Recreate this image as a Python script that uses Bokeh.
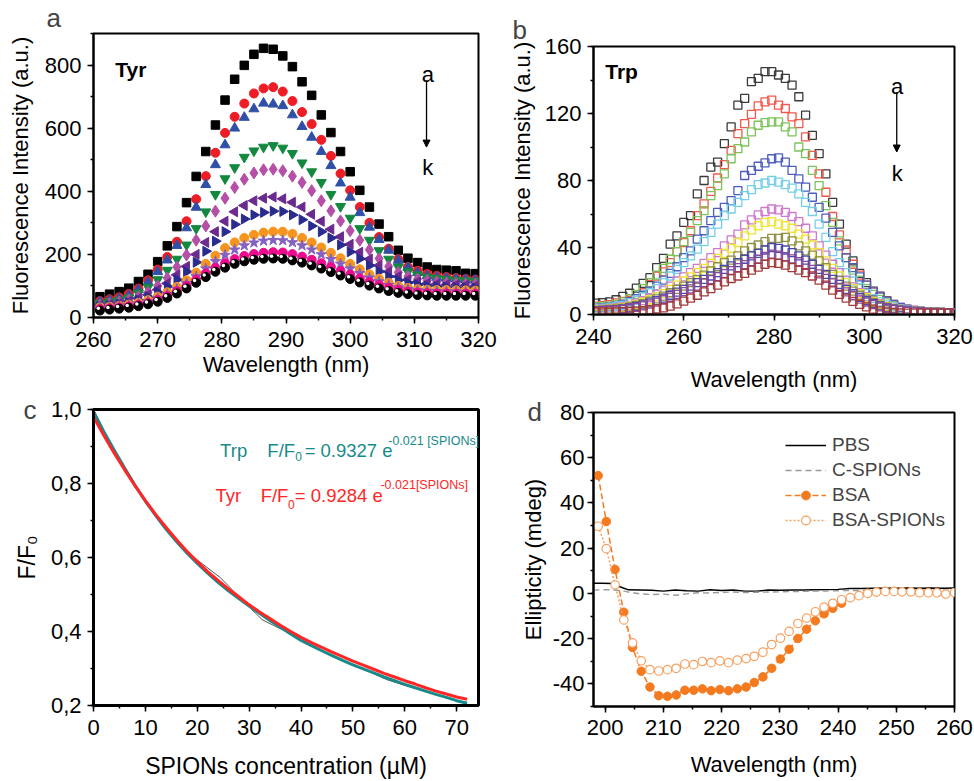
import numpy as np
from bokeh.plotting import figure
from bokeh.layouts import row, column
from bokeh.models import (Range1d, SingleIntervalTicker, Label, Arrow, NormalHead, Title,
                          Legend, LegendItem, CustomJSTickFormatter)
from bokeh.embed import file_html
from bokeh.resources import INLINE

FONT = "Liberation Sans"

# ---------------- Panel a : Tyr fluorescence ----------------
tyr_x = [261, 262.5, 264, 265.5, 267, 268.5, 270, 271.5, 273, 274.5, 276, 277.5, 279, 280.5,
         282, 283.5, 285, 286.5, 288, 289.5, 291, 292.5, 294, 295.5, 297, 298.5, 300, 301.5,
         303, 304.5, 306, 307.5, 309, 310.5, 312, 313.5, 315, 316.5, 318, 319.5]
tyr_a = [66, 74, 82, 93, 114, 137, 177, 227, 288, 364, 447, 526, 610, 689, 755, 799, 834, 853, 850, 829,
         795, 747, 704, 642, 586, 526, 462, 403, 350, 296, 256, 213, 188, 174, 160, 152, 150, 148, 140, 139]
tyr_b = [52, 58, 64, 75, 92, 118, 152, 192, 240, 305, 375, 448, 522, 585, 636, 678, 710, 726, 730, 716,
         686, 651, 613, 563, 512, 456, 403, 350, 300, 255, 218, 185, 160, 148, 138, 132, 128, 125, 122, 120]
tyr_c = [50, 55, 60, 70, 88, 112, 145, 182, 228, 284, 349, 421, 484, 547, 600, 634, 661, 679, 676, 671,
         642, 605, 571, 526, 481, 426, 381, 332, 286, 247, 213, 181, 158, 142, 132, 127, 124, 122, 120, 118]
tyr_d = [45, 50, 55, 63, 78, 96, 120, 150, 185, 230, 282, 335, 390, 440, 475, 508, 528, 540, 545, 537,
         520, 490, 462, 428, 390, 352, 315, 282, 245, 212, 185, 160, 145, 135, 128, 124, 120, 118, 116, 115]
tyr_e = [40, 44, 49, 56, 66, 80, 100, 125, 160, 198, 245, 290, 337, 378, 412, 438, 458, 468, 470, 465,
         448, 428, 402, 370, 338, 306, 275, 245, 215, 187, 162, 143, 130, 122, 117, 113, 110, 108, 106, 105]
tyr_f = [38, 41, 45, 51, 60, 72, 88, 108, 135, 162, 200, 238, 272, 305, 335, 355, 370, 378, 382, 376,
         365, 350, 327, 305, 280, 256, 232, 207, 185, 165, 145, 130, 120, 113, 108, 106, 104, 103, 102, 100]
tyr_g = [35, 38, 42, 47, 55, 65, 80, 98, 120, 145, 175, 210, 242, 272, 295, 312, 325, 333, 337, 336,
         325, 310, 290, 272, 252, 230, 208, 186, 165, 146, 130, 118, 110, 104, 100, 98, 96, 95, 94, 93]
tyr_h = [32, 34, 37, 41, 47, 55, 66, 80, 97, 118, 142, 170, 196, 220, 238, 252, 262, 269, 272, 272,
         265, 252, 238, 222, 205, 188, 170, 153, 137, 123, 110, 100, 94, 90, 88, 87, 87, 86, 86, 85]
tyr_i = [30, 32, 35, 38, 44, 51, 61, 74, 90, 108, 130, 155, 178, 198, 215, 228, 237, 243, 245, 244,
         238, 228, 215, 200, 185, 170, 155, 140, 126, 114, 103, 95, 90, 86, 84, 83, 82, 82, 81, 80]
tyr_j = [27, 29, 32, 35, 40, 46, 56, 68, 83, 100, 120, 140, 157, 172, 185, 195, 201, 205, 207, 206,
         201, 193, 183, 172, 160, 148, 136, 124, 113, 103, 94, 87, 82, 79, 77, 76, 76, 75, 75, 75]
tyr_k = [22, 25, 28, 31, 36, 42, 50, 62, 76, 92, 110, 128, 145, 158, 170, 178, 183, 186, 187, 186,
         181, 174, 165, 155, 144, 133, 122, 111, 101, 92, 84, 78, 74, 71, 70, 69, 69, 69, 69, 69]

# ---------------- Panel b : Trp fluorescence ----------------
trp_x = [240.5, 242, 243.5, 245, 246.5, 248, 249.5, 251, 252.5, 254, 255.5, 257, 258.5, 260,
         261.5, 263, 264.5, 266, 267.5, 269, 270.5, 272, 273.5, 275, 276.5, 278, 279.5, 281,
         282.5, 284, 285.5, 287, 288.5, 290, 291.5, 293, 294.5, 296, 297.5, 299, 300.5, 302,
         303.5, 305, 306.5, 308, 309.5, 311, 312.5, 314, 315.5, 317, 318.5, 320]
trp_a = [6.8, 7.1, 7.5, 8.8, 10.8, 12.7, 15.7, 18.6, 22, 28,
         33.5, 42, 47, 55, 59, 72, 80, 88, 91, 102,
         112, 125, 129, 139, 141, 145, 145, 143, 141, 137,
         130, 119, 107, 96, 84, 67, 54, 42, 32, 24.5,
         19, 14, 11, 8.3, 5.8, 3.8, 2.8, 2.2, 1.8, 1.5,
         1.3, 1.2, 1.1, 1]
trp_b = [5, 5.3, 5.9, 6.9, 7.8, 8.5, 9.5, 13, 18, 23,
         25.5, 31, 37.5, 43, 50, 59, 66, 73.5, 81.5, 89.5,
         98, 108, 114, 119.5, 124.5, 127, 128, 125, 123, 118,
         114, 106, 95, 84, 73, 58.5, 47.5, 38.5, 30, 23.5,
         17.5, 13.5, 10.5, 8, 6, 4.3, 3.2, 2.4, 1.9, 1.5,
         1.3, 1.2, 1.1, 1]
trp_c = [4.5, 4.8, 5.2, 6, 7.5, 9.5, 12, 15.5, 19, 23.5,
         27.5, 33, 37.5, 43.5, 49, 56, 62, 71, 77, 84,
         93, 99, 103, 109, 113, 114.5, 115, 115, 112, 109,
         100, 96, 86, 77, 65, 55, 44, 34, 26.5, 20.5,
         15.5, 12, 9, 7, 5.2, 3.8, 2.8, 2.2, 1.8, 1.5,
         1.3, 1.2, 1.1, 1]
trp_d = [3.8, 4, 4.4, 5, 6, 7.5, 9.5, 11.5, 14, 17,
         20.5, 24.5, 28.5, 34, 38, 45, 50, 56, 61, 64,
         68, 74, 83, 86, 88.5, 90.5, 93, 93.5, 91, 86,
         81, 76, 70, 64, 57.5, 49, 41, 34, 28, 22.5,
         17.5, 13.5, 10.5, 8, 6, 4.3, 3.2, 2.4, 1.9, 1.5,
         1.3, 1.2, 1.1, 1]
trp_e = [3.5, 3.7, 4, 4.6, 5.5, 7, 8.5, 10.5, 13, 15.5,
         19, 23, 27, 31, 35, 39, 43.5, 49, 54, 59,
         63, 67, 71, 74.5, 77.5, 78.5, 80, 79, 77.5, 75.5,
         72, 67, 61.5, 54, 46, 37.5, 31, 25, 20, 16,
         12.5, 9.5, 7.5, 5.8, 4.5, 3.4, 2.6, 2.1, 1.7, 1.4,
         1.2, 1.1, 1, 1]
trp_f = [3, 3.2, 3.5, 4, 4.7, 5.5, 6.8, 8.3, 10, 12,
         14.5, 17, 20, 22.5, 25, 27.5, 30.5, 34, 37, 41,
         44.5, 48, 53.5, 56.5, 59.5, 61.5, 63, 62.5, 61, 58.5,
         55.5, 51.5, 47, 41, 35.5, 30, 25, 20.5, 16.5, 13,
         10.5, 8, 6.3, 4.9, 3.8, 3, 2.4, 2, 1.6, 1.4,
         1.2, 1.1, 1, 1]
trp_g = [2.7, 2.9, 3.2, 3.6, 4.2, 5, 6, 7.3, 8.8, 10.5,
         12.5, 15, 17.5, 20, 22.5, 25, 27.5, 30.5, 33.5, 36.5,
         39.5, 43, 47, 50.5, 53, 55, 55.5, 54, 53, 51.5,
         48, 45, 41.5, 37, 32, 27.5, 23, 19, 15.5, 12.5,
         10, 7.8, 6, 4.7, 3.7, 2.9, 2.3, 1.9, 1.6, 1.4,
         1.2, 1.1, 1, 1]
trp_h = [2.5, 2.7, 3, 3.3, 3.8, 4.5, 5.4, 6.5, 7.8, 9.3,
         11, 13, 15, 17, 19, 21, 23.5, 26, 28.5, 31,
         32.5, 35, 38, 40, 41.5, 43.5, 45.5, 45.5, 46, 44,
         41, 38, 35.5, 32, 28, 24, 20.5, 17, 14, 11.5,
         9.2, 7.2, 5.6, 4.4, 3.5, 2.8, 2.2, 1.8, 1.5, 1.3,
         1.2, 1.1, 1, 1]
trp_i = [2.2, 2.4, 2.6, 2.9, 3.4, 4, 4.8, 5.8, 7, 8.3,
         9.8, 11.5, 13.3, 15, 17, 19, 21, 23, 25, 27,
         29, 31, 33, 35, 36.5, 38.5, 40, 39.5, 38.5, 37,
         35, 32.5, 30, 27, 24, 21, 18, 15, 12.5, 10.2,
         8.2, 6.5, 5.1, 4, 3.2, 2.6, 2.1, 1.8, 1.5, 1.3,
         1.2, 1.1, 1, 1]
trp_j = [2, 2.2, 2.4, 2.7, 3.1, 3.6, 4.3, 5.2, 6.2, 7.4,
         8.8, 10.3, 12, 13.6, 15.3, 17, 19, 20.8, 22.6, 24.4,
         26.2, 28, 29.8, 31.5, 33, 34.7, 36, 35.5, 34.5, 33.2,
         31.5, 29.3, 27, 24.3, 21.6, 18.9, 16.2, 13.5, 11.2, 9.2,
         7.4, 5.9, 4.6, 3.6, 2.9, 2.4, 2, 1.7, 1.4, 1.2,
         1.1, 1, 1, 1]
trp_k = [1.5, 1.5, 1.5, 1.6, 1.7, 1.8, 2, 2.3, 2.8, 3.3,
         4, 5, 6.3, 8, 9.8, 11.5, 13.5, 15.5, 17.5, 19.5,
         21.5, 23, 24.5, 26.5, 28.3, 30, 31, 30.5, 29.5, 28,
         26.5, 25, 23, 20.5, 17.5, 14.5, 12, 9.8, 7.8, 6,
         4.5, 3.2, 2.2, 1.5, 1.1, 0.9, 0.8, 0.8, 0.8, 0.8,
         0.8, 0.8, 0.8, 0.8]

# ---------------- Panel c : quenching ----------------
fit_x = [0, 2, 4, 6, 8, 10, 12, 14, 16, 18, 20, 22, 24, 26, 28, 30, 32, 34, 36,
         38, 40, 42, 44, 46, 48, 50, 52, 54, 56, 58, 60, 62, 64, 66, 68, 70, 72]
trp_fit = [0.994, 0.940, 0.890, 0.842, 0.795, 0.752, 0.713, 0.676, 0.643, 0.612, 0.584,
           0.558, 0.533, 0.510, 0.489, 0.469, 0.449, 0.430, 0.412, 0.393, 0.376, 0.362,
           0.348, 0.335, 0.322, 0.310, 0.299, 0.288, 0.277, 0.267, 0.257, 0.248, 0.239,
           0.230, 0.222, 0.213, 0.206]
tyr_fit = [0.980, 0.930, 0.882, 0.837, 0.794, 0.754, 0.716, 0.681, 0.648, 0.617, 0.589,
           0.562, 0.538, 0.515, 0.494, 0.472, 0.453, 0.435, 0.417, 0.400, 0.384, 0.370,
           0.357, 0.344, 0.332, 0.320, 0.309, 0.298, 0.287, 0.277, 0.267, 0.258, 0.248,
           0.239, 0.231, 0.223, 0.217]
meas_x = [0, 4, 8, 12, 16.5, 20.5, 24.5, 28.5, 32.5, 36.5, 40.5, 44.5, 48.5, 52.5,
          56.5, 60.5, 64.5, 68.5, 72]
meas_y = [1.0, 0.885, 0.79, 0.712, 0.632, 0.588, 0.545, 0.487, 0.432, 0.404, 0.372,
          0.345, 0.318, 0.296, 0.270, 0.252, 0.237, 0.219, 0.205]

# ---------------- Panel d : CD spectra ----------------
cd_x = [198.8, 200.2, 201.7, 203.2, 204.7, 206.2, 207.7, 209.2, 210.7, 212.2, 213.7, 215.2,
        216.7, 218.2, 219.7, 221.2, 222.7, 224.2, 225.6, 227.1, 228.6, 230.1, 231.6, 233.1,
        234.6, 236.1, 237.6, 239.1, 240.6, 242.1, 243.6, 245.1, 246.6, 248.1, 249.6, 251.0,
        252.5, 254.0, 255.5, 257.0, 258.5, 260.0]
bsa = [52.1, 31.8, 10.6, -8.3, -23.9, -34.4, -41.4, -45.2, -45.5, -44.9, -42.8, -42.8,
       -42.2, -43.0, -42.5, -43.0, -42.2, -41.4, -39.4, -36.9, -33.1, -29.0, -24.7, -19.9,
       -15.8, -12.1, -9.0, -6.6, -4.3]
bsa_spions = [29.7, 19.8, 3.8, -11.7, -21.9, -29.8, -33.7, -34.3, -33.7, -33.1, -31.2, -31.5,
              -30.1, -30.6, -29.8, -30.6, -29.5, -28.8, -27.8, -26.0, -22.6, -19.8, -16.8, -13.3,
              -10.9, -8.1, -6.1, -4.4, -2.8, -1.9, -1.0, 0.0, 0.6, 0.9, 0.9, 0.7, 0.7, 0.3,
              0.3, 0.3, -0.3, 0.4]
base_x = [198, 199.5, 201, 202, 203, 204, 206, 208, 210, 212, 214, 216, 218, 220, 222, 224,
          226, 228, 230, 232, 234, 236, 238, 240, 242, 244, 246, 248, 250, 252, 254, 256, 258, 260]
pbs = [4.5, 4.5, 4.4, 3.5, 2.5, 1.6, 1.5, 1.4, 1.0, 1.5, 1.2, 1.0, 1.6, 1.3, 1.5, 1.0,
       1.0, 1.5, 1.4, 1.5, 1.5, 1.6, 1.7, 1.8, 2.2, 2.2, 2.3, 2.3, 2.3, 2.4, 2.3, 2.4, 2.3, 2.4]
c_spions = [1.5, 1.6, 1.6, 1.4, 1.2, 0.6, -0.2, -0.5, -0.3, -0.8, -0.2, 0.3, 0.2, 0.5, 0.6, 0.4,
            0.5, 0.6, 0.7, 0.8, 0.9, 1.0, 1.1, 1.2, 1.3, 1.3, 1.4, 1.4, 1.4, 1.4, 1.4, 1.4, 1.4, 1.4]


def style(p, xint, yint, lw=2, tick_size="22px", label_size="22px",
          xstand=8, ystand=6, xlab_off=5, ylab_off=5):
    p.xgrid.visible = False
    p.ygrid.visible = False
    p.outline_line_color = "black"
    p.outline_line_width = lw
    p.outline_line_alpha = 1
    for ax in (p.xaxis[0], p.yaxis[0]):
        ax.axis_line_width = lw
        ax.axis_line_color = "black"
        ax.major_tick_line_width = 1.5
        ax.minor_tick_line_width = 1.5
        ax.major_tick_out = 6
        ax.major_tick_in = 0
        ax.minor_tick_out = 3
        ax.minor_tick_in = 0
        ax.major_label_text_font = FONT
        ax.major_label_text_font_size = tick_size
        ax.major_label_text_color = "black"
        ax.axis_label_text_font = FONT
        ax.axis_label_text_font_size = label_size
        ax.axis_label_text_font_style = "normal"
        ax.axis_label_text_color = "black"
    p.xaxis[0].major_label_standoff = xstand
    p.yaxis[0].major_label_standoff = ystand
    p.xaxis[0].axis_label_standoff = xlab_off
    p.yaxis[0].axis_label_standoff = ylab_off
    p.xaxis[0].ticker = SingleIntervalTicker(interval=xint, num_minor_ticks=2)
    p.yaxis[0].ticker = SingleIntervalTicker(interval=yint, num_minor_ticks=2)


def txt(p, x, y, s, size="22px", color="black", style_="normal", align="left"):
    p.add_layout(Label(x=x, y=y, text=s, text_font=FONT, text_font_size=size,
                       text_color=color, text_font_style=style_, text_align=align,
                       text_baseline="alphabetic"))


def panel_letter(p, s, offset, standoff):
    p.add_layout(Title(text=s, align="left", offset=offset, standoff=standoff, text_font=FONT,
                       text_font_size="26px", text_font_style="normal"), "above")


# ======== Panel a ========
pa = figure(width=500, height=385, x_range=Range1d(260, 320), y_range=Range1d(0, 900),
            toolbar_location=None, output_backend="svg",
            min_border_left=93, min_border_right=22, min_border_top=33, min_border_bottom=68)
style(pa, 10, 200, xlab_off=2, ylab_off=9)
pa.xaxis.axis_label = "Wavelength (nm)"
pa.yaxis.axis_label = "Fluorescence Intensity (a.u.)"

tyr_specs = [
    (tyr_a, "square", 0, "#000000", 8.5),
    (tyr_b, "circle", 0, "#ee1c25", 9),
    (tyr_c, "triangle", 0, "#2f50a6", 10),
    (tyr_d, "inverted_triangle", 0, "#13893f", 10),
    (tyr_e, "diamond", 0, "#b54fa7", 12),
    (tyr_f, "triangle", np.pi / 2, "#6b2a8d", 10),
    (tyr_g, "triangle", -np.pi / 2, "#292b8e", 10),
    (tyr_h, "circle", 0, "#f7941e", 9),
    (tyr_i, "star", 0, "#8561c1", 11),
    (tyr_j, "circle", 0, "#ec0b8d", 9),
    (tyr_k, "circle", 0, "#000000", 9),
]
for vals, mk, ang, col, sz in tyr_specs:
    pa.scatter(tyr_x, vals, marker=mk, angle=ang, size=sz, fill_color=col, line_color=col)
pa.scatter([x - 0.25 for x in tyr_x], [v + 7 for v in tyr_k], marker="circle", size=3.5,
           fill_color="white", line_color=None)

panel_letter(pa, "a", -47, 1)
txt(pa, 263.4, 787, "Tyr", size="21px", style_="bold")
txt(pa, 312.1, 770, "a", size="22px", align="center")
txt(pa, 312.1, 476, "k", size="22px", align="center")
pa.add_layout(Arrow(end=NormalHead(size=7, fill_color="black", line_color="black"),
                    x_start=311.9, y_start=751, x_end=311.9, y_end=540,
                    line_width=1.3, line_color="black"))

# ======== Panel b ========
pb = figure(width=474, height=394, x_range=Range1d(240, 320), y_range=Range1d(0, 160),
            toolbar_location=None, output_backend="svg",
            min_border_left=84, min_border_right=20, min_border_top=46, min_border_bottom=76)
style(pb, 20, 40, xlab_off=20, ylab_off=7)
pb.xaxis.axis_label = "Wavelength (nm)"
pb.yaxis.axis_label = "Fluorescence Intensity (a.u.)"

trp_specs = [
    (trp_a, "#3a3a3a"), (trp_b, "#f4574b"), (trp_c, "#7cc35a"), (trp_d, "#4c5cbf"),
    (trp_e, "#74cfe6"), (trp_f, "#cf78cc"), (trp_g, "#efe43a"), (trp_h, "#8f8f45"),
    (trp_i, "#4848a8"), (trp_j, "#8a4a9a"), (trp_k, "#a33a3a"),
]
for vals, col in trp_specs:
    pb.scatter(trp_x, vals, marker="square", size=8, fill_color=None, line_color=col,
               line_width=1.3)

panel_letter(pb, "b", -81, 3)
txt(pb, 242.6, 144.9, "Trp", size="21px", style_="bold")
txt(pb, 307.3, 136, "a", size="22px", align="center")
txt(pb, 307.3, 84, "k", size="22px", align="center")
pb.add_layout(Arrow(end=NormalHead(size=7, fill_color="black", line_color="black"),
                    x_start=307.2, y_start=132.5, x_end=307.2, y_end=97,
                    line_width=1.3, line_color="black"))

# ======== Panel c ========
pc = figure(width=500, height=396, x_range=Range1d(0, 74.2), y_range=Range1d(0.2, 1.0),
            toolbar_location=None, output_backend="svg",
            min_border_left=93, min_border_right=4, min_border_top=24, min_border_bottom=73)
style(pc, 10, 0.2, lw=3, tick_size="22px", label_size="23px", xlab_off=15, ylab_off=8)
pc.yaxis[0].formatter = CustomJSTickFormatter(code="return tick.toFixed(1).replace('.', ',');")
pc.xaxis.axis_label = "SPIONs concentration (\u00b5M)"
pc.yaxis.axis_label = "F/F\u2080"

TEAL = "#178a8a"
RED = "#ff2626"
pc.line(meas_x, meas_y, line_color="#555555", line_width=1)
pc.line(fit_x, trp_fit, line_color=TEAL, line_width=3)
pc.line(fit_x, tyr_fit, line_color=RED, line_width=3)

panel_letter(pc, "c", -70, -30)
txt(pc, 24.4, 0.890, "Trp", size="18.5px", color=TEAL)
txt(pc, 33.51, 0.890, "F/F", size="18.5px", color=TEAL)
txt(pc, 38.9, 0.8724, "0", size="12px", color=TEAL)
txt(pc, 40.69, 0.890, "= 0.9327 e", size="18.5px", color=TEAL)
txt(pc, 56.8, 0.9152, "-0.021 [SPIONs]", size="12.5px", color=TEAL)
txt(pc, 23.5, 0.7672, "Tyr", size="18.5px", color=RED)
txt(pc, 32.22, 0.7672, "F/F", size="18.5px", color=RED)
txt(pc, 37.5, 0.7431, "0", size="12px", color=RED)
txt(pc, 38.8, 0.7672, "= 0.9284 e", size="18.5px", color=RED)
txt(pc, 55.3, 0.7948, "-0.021[SPIONs]", size="12.5px", color=RED)

# ======== Panel d ========
pd_ = figure(width=474, height=387, x_range=Range1d(198, 260), y_range=Range1d(-50, 80),
             toolbar_location=None, output_backend="svg",
             min_border_left=93, min_border_right=20, min_border_top=18, min_border_bottom=75)
style(pd_, 10, 20, xstand=7, ystand=3, xlab_off=14, ylab_off=4)
pd_.yaxis[0].formatter = CustomJSTickFormatter(code="return tick.toFixed(0);")
pd_.xaxis.axis_label = "Wavelength (nm)"
pd_.yaxis.axis_label = "Ellipticity (mdeg)"

OR = "#f47a20"
OR2 = "#f6a060"
r_pbs = pd_.line(base_x, pbs, line_color="black", line_width=1.4)
r_cs = pd_.line(base_x, c_spions, line_color="#9a9a9a", line_width=1.4, line_dash="6 4")
r_bl = pd_.line(cd_x[:len(bsa)], bsa, line_color=OR, line_width=1.5, line_dash="6 3")
r_bm = pd_.scatter(cd_x[:len(bsa)], bsa, marker="circle", size=8.5, fill_color=OR, line_color=OR)
r_sl = pd_.line(cd_x, bsa_spions, line_color=OR2, line_width=1.5, line_dash="2 2")
r_sm = pd_.scatter(cd_x, bsa_spions, marker="circle", size=8.5, fill_color="white",
                   line_color=OR2, line_width=1.2)

legend = Legend(items=[LegendItem(label="PBS", renderers=[r_pbs]),
                       LegendItem(label="C-SPIONs", renderers=[r_cs]),
                       LegendItem(label="BSA", renderers=[r_bl, r_bm]),
                       LegendItem(label="BSA-SPIONs", renderers=[r_sl, r_sm])],
                location=(192, 175), label_text_font=FONT, label_text_font_size="19px",
                glyph_width=41, glyph_height=22, label_height=22, label_standoff=6,
                spacing=3, padding=0, margin=0, border_line_color=None,
                background_fill_alpha=0)
pd_.add_layout(legend)

panel_letter(pd_, "d", -66, -28)

layout = row(column(pa, pc), column(pb, pd_))
open("out.html", "w").write(file_html(layout, INLINE))
